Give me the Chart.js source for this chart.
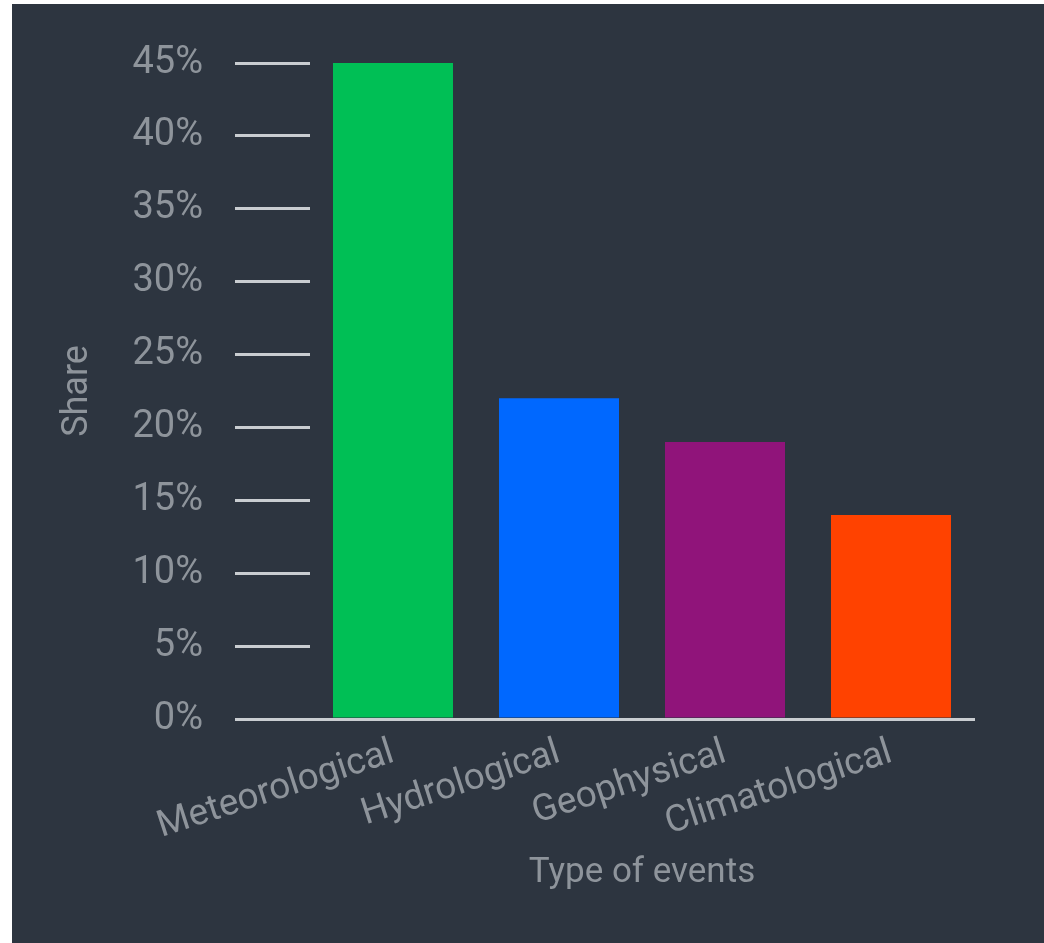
<!DOCTYPE html>
<html>
<head>
<meta charset="utf-8">
<script src="https://cdn.jsdelivr.net/npm/chart.js@4/dist/chart.umd.min.js"></script>
<style>
  html, body { margin: 0; padding: 0; background: #ffffff; }
  #wrap { position: absolute; left: 12px; top: 4px; width: 1032px; height: 939px; background: #2d3540; }
</style>
</head>
<body>
<div id="wrap"><canvas id="chartarea"></canvas></div>
<script>
// values
var categories = ["Meteorological", "Hydrological", "Geophysical", "Climatological"];
var shares = [45, 22, 19, 14];
var barColors = ["#00bf55", "#0068ff", "#90147a", "#ff4200"];

var textGray = "#8e949b";
var lineGray = "#c9cdd1";

var ctx = document.getElementById("chartarea");

new Chart(ctx, {
    type: 'bar',
    data: {
        labels: categories,
        datasets: [{
            data: shares,
            backgroundColor: barColors,
            borderWidth: 0,
            categoryPercentage: 1,
            barPercentage: 0.723
        }]
    },
    options: {
        animation: false,
        responsive: true,
        maintainAspectRatio: false,
        layout: { padding: { top: 59, right: 70, left: 0, bottom: 0 } },
        plugins: {
            legend: { display: false },
            tooltip: { enabled: false }
        },
        scales: {
            x: {
                grid: { display: false, drawTicks: false },
                border: { display: true, color: lineGray, width: 3 },
                ticks: {
                    color: textGray,
                    font: { family: 'Roboto', size: 37 },
                    minRotation: 18,
                    maxRotation: 18,
                    padding: 12
                },
                title: {
                    display: true,
                    text: 'Type of events',
                    color: textGray,
                    font: { family: 'Roboto', size: 35 },
                    padding: { top: 0, bottom: 49 }
                },
                afterFit: function (scale) { scale.height = 224; }
            },
            y: {
                min: 0,
                max: 45,
                grid: {
                    drawOnChartArea: false,
                    color: lineGray,
                    lineWidth: 3,
                    tickLength: 75
                },
                border: { display: false },
                ticks: {
                    stepSize: 5,
                    color: textGray,
                    font: { family: 'Roboto', size: 38 },
                    padding: 32,
                    callback: function (v) { return v + '%'; }
                },
                title: {
                    display: true,
                    text: 'Share',
                    color: textGray,
                    font: { family: 'Roboto', size: 36 },
                    padding: { top: 44, bottom: 0 }
                },
                afterFit: function (scale) { scale.width = 298; }
            }
        }
    }
});
</script>
</body>
</html>
